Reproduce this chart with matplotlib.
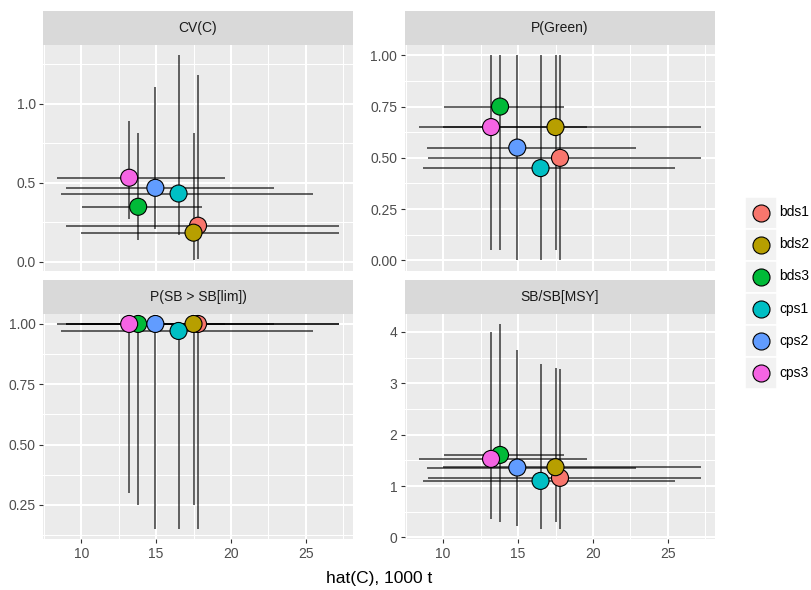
import matplotlib

matplotlib.use("Agg")
import matplotlib.pyplot as plt
from matplotlib.patches import Rectangle
from matplotlib.ticker import FormatStrFormatter, MultipleLocator

plt.rcParams["font.family"] = ["Liberation Sans", "DejaVu Sans"]

# scenarios and their ggplot hue colours
labels = ["bds1", "bds2", "bds3", "cps1", "cps2", "cps3"]
colours = ["#F8766D", "#B79F00", "#00BA38", "#00BFC4", "#619CFF", "#F564E3"]

# hat(C), 1000 t (median and interval)
catch_mid = [17.8, 17.5, 13.8, 16.5, 14.95, 13.2]
catch_lo = [9.0, 10.0, 10.05, 8.65, 8.95, 8.4]
catch_hi = [27.2, 27.2, 18.1, 25.5, 22.85, 19.6]

# CV(C)
cv_mid = [0.228, 0.184, 0.348, 0.432, 0.468, 0.532]
cv_lo = [0.017, 0.008, 0.137, 0.169, 0.21, 0.27]
cv_hi = [1.184, 0.815, 0.814, 1.308, 1.11, 0.892]

# P(Green)
green_mid = [0.50, 0.65, 0.75, 0.45, 0.55, 0.65]
green_lo = [0.0, 0.05, 0.05, 0.0, 0.0, 0.05]
green_hi = [1.0, 1.0, 1.0, 1.0, 1.0, 1.0]

# P(SB > SB[lim])
lim_mid = [1.0, 1.0, 1.0, 0.971, 1.0, 1.0]
lim_lo = [0.15, 0.25, 0.25, 0.15, 0.15, 0.30]
lim_hi = [1.0, 1.0, 1.0, 1.0, 1.0, 1.0]

# SB/SB[MSY]
msy_mid = [1.159, 1.367, 1.606, 1.10, 1.36, 1.528]
msy_lo = [0.163, 0.291, 0.291, 0.163, 0.214, 0.357]
msy_hi = [3.276, 3.295, 4.155, 3.367, 3.65, 4.0]

W, H = 812, 590
fig = plt.figure(figsize=(W / 100, H / 100), dpi=100)


def px_axes(x0, y0, x1, y1):
    return fig.add_axes([x0 / W, 1 - y1 / H, (x1 - x0) / W, (y1 - y0) / H])


def expand(lo, hi, frac=0.05):
    pad = (hi - lo) * frac
    return lo - pad, hi + pad


xlim = expand(min(catch_lo), max(catch_hi))

panels = [
    ("CV(C)", cv_mid, cv_lo, cv_hi, 0.5, "%.1f", (43.3, 45, 352.7, 270.7), False),
    ("P(Green)", green_mid, green_lo, green_hi, 0.25, "%.2f", (405, 45, 715, 270.7), False),
    ("P(SB > SB[lim])", lim_mid, lim_lo, lim_hi, 0.25, "%.2f", (43.3, 313.7, 352.7, 539.3), True),
    ("SB/SB[MSY]", msy_mid, msy_lo, msy_hi, 1.0, "%d", (405, 313.7, 715, 539.3), True),
]

for title, mid, lo, hi, step, fmt, box, bottom_row in panels:
    x0, y0, x1, y1 = box
    ax = px_axes(x0, y0, x1, y1)
    ax.set_facecolor("#EBEBEB")
    for s in ax.spines.values():
        s.set_visible(False)

    ax.vlines(catch_mid, lo, hi, color="black", alpha=0.7, lw=1.2, zorder=2)
    ax.hlines(mid, catch_lo, catch_hi, color="black", alpha=0.7, lw=1.2, zorder=2)
    ax.scatter(catch_mid, mid, s=150, c=colours, edgecolors="black",
               linewidths=0.8, zorder=3)

    ax.set_xlim(*xlim)
    ax.set_ylim(*expand(min(lo), max(hi)))
    ax.xaxis.set_major_locator(MultipleLocator(5))
    ax.xaxis.set_minor_locator(MultipleLocator(2.5))
    ax.yaxis.set_major_locator(MultipleLocator(step))
    ax.yaxis.set_minor_locator(MultipleLocator(step / 2))
    ax.yaxis.set_major_formatter(FormatStrFormatter(fmt))

    ax.set_axisbelow(True)
    ax.grid(which="major", color="white", lw=1.5)
    ax.grid(which="minor", color="white", lw=0.75)
    ax.tick_params(which="minor", length=0)
    ax.tick_params(which="major", length=3, width=0.8, color="#333333",
                   labelsize=10, labelcolor="#4D4D4D", pad=2.5)
    if not bottom_row:
        ax.tick_params(axis="x", length=0, labelbottom=False)

    strip = px_axes(x0, y0 - 33.7, x1, y0)
    strip.set_facecolor("#D9D9D9")
    strip.set_xticks([])
    strip.set_yticks([])
    for s in strip.spines.values():
        s.set_visible(False)
    strip.text(0.5, 0.5, title, ha="center", va="center", fontsize=10,
               color="#1A1A1A", transform=strip.transAxes)

fig.text(379 / W, 1 - 578 / H, "hat(C), 1000 t", ha="center", va="center",
         fontsize=12.5, color="black")

# legend drawn by hand to get ggplot-style key boxes
leg = px_axes(745, 196.5, 777, 388.5)
leg.set_xlim(0, 1)
leg.set_ylim(len(labels), 0)
leg.axis("off")
for i, (lab, col) in enumerate(zip(labels, colours)):
    leg.add_patch(Rectangle((0, i), 1, 1, facecolor="#F2F2F2", edgecolor="white", lw=1.2))
    leg.scatter([0.5], [i + 0.5], s=150, c=[col], edgecolors="black", linewidths=0.8)
    leg.text(1.08, i + 0.5, lab, ha="left", va="center", fontsize=10, color="black")

fig.savefig("out.png", dpi=100)
